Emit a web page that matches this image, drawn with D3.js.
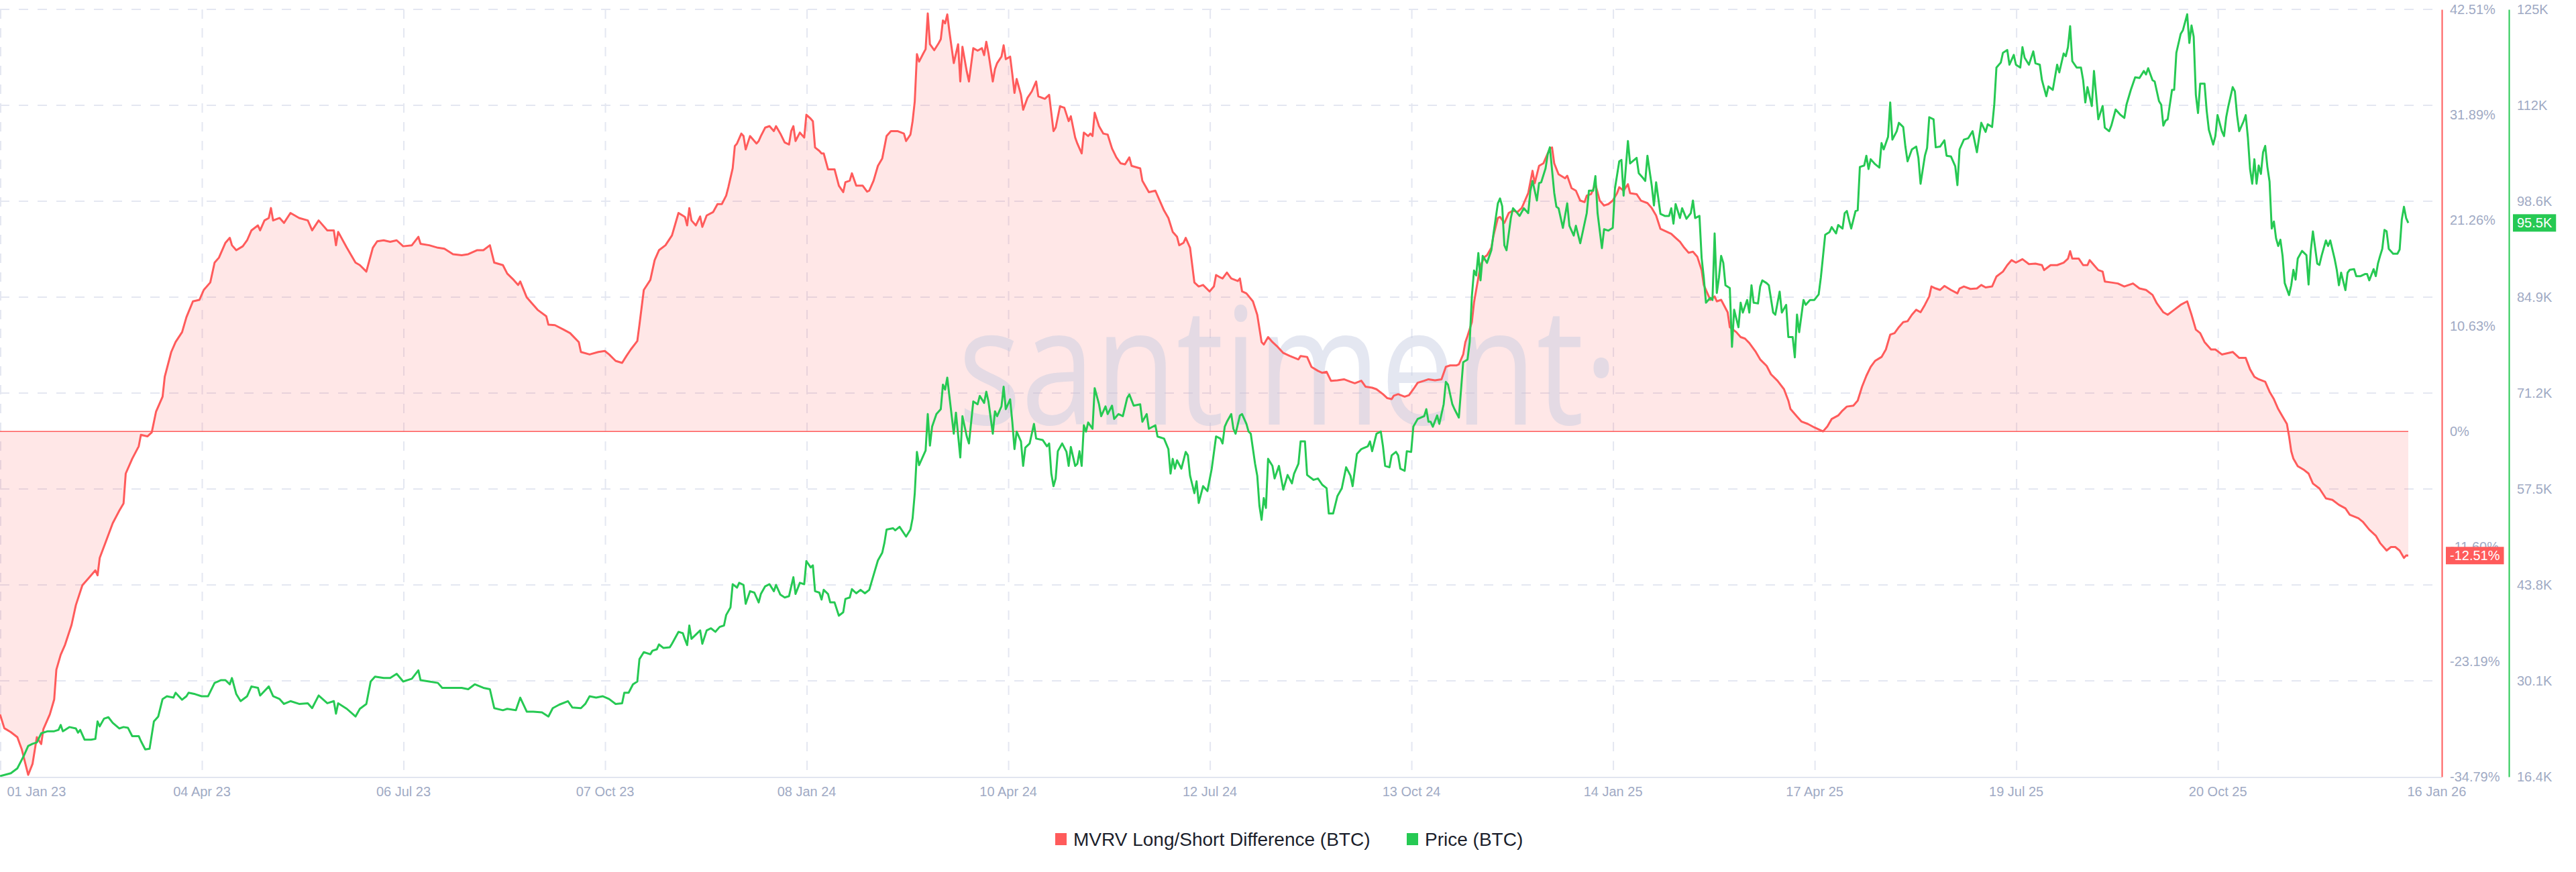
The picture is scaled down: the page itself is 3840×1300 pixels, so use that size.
<!DOCTYPE html>
<html>
<head>
<meta charset="utf-8">
<script src="https://cdn.jsdelivr.net/npm/d3@7"></script>
<style>
  html, body { margin: 0; padding: 0; background: #ffffff; }
  svg { display: block; }
</style>
</head>
<body>
<svg id="chart" width="3840" height="1300"></svg>
<script>
// ---------------- DATA ----------------
const startDate = "2023-01-01";
const endDate = "2026-01-16";

// MVRV Long/Short Difference (BTC), [days since startDate, percent]
const mvrvPoints = [
[0,-28.5],[2,-29.9],[5,-30.3],[8,-30.8],[10,-32],[13,-34.6],[15,-33.5],[17,-30.8],[19,-31.5],[20,-30],[23,-28.5],[25,-27],[26,-24],[28,-22.5],[30,-21.5],[33,-19.5],[35,-17.5],[38,-15.5],[41,-14.75],[44,-14],[45,-14.5],[46,-12.75],[49,-11],[52,-9.25],[55,-8],[57,-7.25],[58,-4.25],[61,-2.75],[64,-1.5],[65,-0.35],[68,-0.5],[70,-0.1],[72,2],[75,3.5],[76,5.5],[79,8],[81,9],[84,10],[86,11.5],[89,13.1],[92,13.25],[94,14.25],[97,15],[99,17],[101,17.5],[104,19],[106,19.5],[107,18.75],[109,18.25],[112,18.65],[114,19.25],[116,20.25],[119,20.75],[120,20.25],[122,21.25],[124,21.5],[125,22.5],[126,21.25],[129,21.5],[131,21],[134,22],[138,21.5],[142,21.25],[144,20.25],[147,21.25],[151,20.25],[154,20.25],[155,18.75],[156,20.1],[160,18.5],[164,17],[166,16.75],[169,16.1],[172,18.5],[174,19.15],[177,19.25],[180,19.1],[183,19.25],[186,18.65],[190,18.75],[193,19.6],[194,18.9],[198,18.75],[202,18.5],[205,18.4],[209,17.85],[213,17.75],[216,17.85],[220,18.25],[223,18.25],[226,18.75],[228,17],[232,16.75],[234,15.9],[237,15.25],[239,14.75],[240,15.1],[243,13.5],[245,13],[248,12.25],[252,11.6],[253,10.75],[256,10.7],[260,10.25],[263,9.9],[267,9],[268,8],[272,7.75],[276,8],[279,8.1],
[281,7.75],[284,7.1],[287,6.9],[289,7.6],[291,8.25],[294,9.1],[295,10.75],[297,14.25],[300,15.25],[302,17.25],[304,18.25],[307,18.75],[310,19.75],[311,20.5],[313,22],[316,21.6],[317,20.75],[318,22.5],[319,21.25],[321,20.75],[323,21.65],[324,20.6],[326,21.75],[329,22.1],[331,22.9],[333,22.9],[335,23.75],[336,24.6],[338,26.5],[339,28.75],[340,29],[342,30],[343,29.75],[344,28.4],[346,29.75],[349,29],[350,29.25],[351,29.75],[353,30.6],[355,30.75],[357,30.25],[358,30.75],[360,30],[362,29.1],[364,28.9],[365,30.25],[366,30.75],[367,29.25],[369,30.1],[371,29.6],[372,31.9],[374,31.5],[375,31.25],[376,28.6],[378,28.25],[379,28],[380,28],[382,26.4],[385,26.4],[387,24.75],[389,24.1],[390,25.1],[392,25.25],[393,26],[395,24.75],[398,24.75],[400,24.15],[401,24.25],[403,25.25],[405,26.75],[407,27.5],[409,29.75],[411,30.25],[414,30.25],[417,30],[418,29.25],[420,29.9],[421,31.25],[422,33.25],[423,38],[424,37.25],[426,38.1],[427,38.5],[428,42.1],[429,39],[431,38.4],[433,39.1],[434,39.5],[435,41.4],[436,41.1],[437,42],[438,40.25],[440,37.1],[442,39],[443,35.25],[444,38.75],[446,36.25],[447,35.25],[449,38.6],[451,38.35],[453,38.6],[454,37.9],[455,39.25],[456,38.1],[458,35.25],[459,36.5],[460,37.1],[462,37.75],[463,38.9],[464,37.5],[466,37.75],[467,36],[468,34.1],[469,35.5],[471,33.9],[472,32.4],[474,33.6],[476,34.25],[478,35.25],[479,33.75],[482,33.5],[484,33.9],[486,30.25],[487,30.6],[489,32.75],[491,32.6],[493,31.25],[494,31.75],[496,29.6],[497,29],[499,28],[500,30.1],[502,29.75],[503,30],[504,29.75],[505,32.1],[507,30.75],[509,30],[511,29.9],[513,28.5],[515,27.6],[517,27],[519,26.9],[521,27.6],[522,26.75],[526,26.5],[527,25.25],[530,24.1],[533,24.25],[535,23.25],[537,22.25],[539,21.5],[541,20.1],[543,19.6],[544,18.75],[546,19],[547,19.5],[549,18.5],[550,16.75],[551,15],[553,14.6],[555,14.75],[558,14.1],[560,14.6],[561,15.75],[563,15.5],
[564,15.4],[566,16],[568,15.4],[571,15.15],[572,15.4],[573,14.1],[575,13.9],[578,13.1],[580,11.75],[582,9],[583,8.75],[585,9.5],[587,9],[589,8.6],[592,7.9],[595,7.6],[599,7.25],[600,7.6],[603,7.5],[605,6.5],[608,6.1],[610,5.9],[612,6],[614,5.1],[617,5.15],[620,5.25],[623,5],[625,4.85],[628,5.1],[630,4.5],[633,4.4],[635,4.25],[638,3.75],[640,3.35],[642,3.25],[643,3.6],[645,3.75],[648,3.5],[650,3.65],[652,4.25],[654,4.9],[657,5.1],[659,5.25],[662,5.15],[665,5.25],[667,6.5],[669,6.65],[672,6.65],[673,6.75],[675,7.75],[676,9],[677,9.6],[679,11],[680,13],[682,15.5],[683,16.75],[685,17.6],[686,17.75],[688,18.5],[689,19.75],[691,21.5],[692,21.6],[694,21],[696,22],[698,22.25],[700,22.1],[702,22.5],[703,23],[705,24],[707,26.25],[708,25],[710,26.75],[712,27],[713,27.5],[715,28.5],[716,28.6],[717,27],[719,25.9],[722,25.5],[723,25.75],[725,24.5],[727,24.25],[729,23.25],[731,23.1],[732,23.75],[734,23.9],[736,24.9],[738,23.25],[740,22.75],[742,22.9],[744,23.25],[746,24],[747,24.6],[749,24.25],[751,24.9],[752,24],[755,23.9],[757,23.25],[760,23],[762,22.5],[764,21.75],[766,20.4],[769,20.1],[771,19.9],[773,19.5],[775,19.1],[777,18.5],[779,18],[781,18.1],[783,17.6],[785,16.25],[786,14.75],[788,13.75],[789,13.25],[791,13.6],[792,13.1],[794,13.25],[797,12],[798,10.5],[801,10],[803,9.5],[805,9.35],[807,8.9],[810,8],[812,7.25],[815,6.6],[817,5.75],[820,5.1],[823,4.25],[825,3.1],[826,2.25],[829,1.5],[831,1],[834,0.75],[837,0.4],[840,0.1],[841,0],
[843,0.5],[845,1.25],[848,1.6],[850,2.1],[852,2.5],[855,2.6],[857,3.1],[859,4.5],[861,5.6],[863,6.5],[865,7.1],[868,7.5],[870,8.25],[872,9.75],[874,9.9],[876,10.5],[878,11],[880,11.1],[882,11.75],[884,12.25],[886,12],[888,12.75],[890,13.6],[891,14.6],[893,14.4],[895,14.25],[897,14.65],[900,14.25],[903,13.9],[904,14.4],[906,14.6],[909,14.35],[912,14.4],[914,14.75],[916,14.5],[919,14.6],[921,15.6],[924,16.1],[926,16.75],[928,17.25],[930,17],[933,17.35],[936,16.85],[939,16.9],[942,16.75],[943,16.25],[946,16.75],[949,16.75],[952,17],[954,17.4],[955,18.15],[956,17.4],[959,17.4],[961,16.75],[963,16.75],[964,17.25],[966,16.75],[968,16.25],[970,16.1],[971,15.1],[974,15],[977,14.9],[980,14.6],[982,14.75],[984,14.9],[987,14.4],[990,14.25],[993,13.75],[995,12.9],[998,12],[1000,11.75],[1003,12.25],[1006,12.75],[1009,13.1],[1011,11.75],[1013,10.25],[1015,9.9],[1017,9],[1020,8.25],[1022,8.25],[1025,7.75],[1028,7.9],[1030,8],[1033,7.4],[1036,7.4],[1038,6.25],[1040,5.5],[1042,5.25],[1045,5],[1047,4],[1049,3.25],[1051,2.25],[1053,1.5],[1055,0.75],[1056,-0.5],[1057,-2],[1058,-2.75],[1060,-3.5],[1063,-3.9],[1065,-4.25],[1067,-5.25],[1070,-5.75],[1073,-6.75],[1076,-6.9],[1079,-7.4],[1082,-7.75],[1084,-8.4],[1088,-8.75],[1090,-9.1],[1093,-9.9],[1096,-10.5],[1098,-11.25],[1101,-12],[1103,-11.65],[1105,-11.65],[1107,-12],[1109,-12.75],[1110,-12.5],[1111,-12.51]
];

// Price (BTC) in thousands USD, [days since startDate, price K]
const pricePoints = [
[0,16.5],[5,16.9],[8,17.6],[11,19.4],[13,20.8],[15,21.1],[17,21.3],[19,22.6],[22,22.9],[25,22.9],[27,23.1],[28,23.8],[29,22.9],[32,23.5],[35,23.3],[36,22.7],[37,23.1],[39,21.7],[42,21.7],[44,21.8],[45,24.3],[46,23.6],[48,24.7],[50,24.9],[52,24.1],[55,23.3],[57,23.5],[59,23.4],[61,22.2],[64,22.2],[65,21.5],[67,20.3],[69,20.4],[71,24.3],[73,25],[75,27.5],[77,27.9],[80,27.7],[81,28.4],[84,27.4],[86,27.9],[87,28.4],[90,28.2],[93,27.9],[96,27.9],[99,29.8],[102,30.2],[104,30.2],[106,29.6],[107,30.5],[109,28.2],[111,27.2],[114,27.9],[116,29.3],[119,29.1],[120,28],[124,29.3],[126,27.9],[129,27.5],[131,26.8],[134,27.2],[138,26.8],[142,26.9],[144,26.2],[147,28],[151,26.9],[154,27.2],[155,25.4],[156,26.9],[160,26.1],[164,25],[166,26.1],[169,26.8],[171,30],[173,30.7],[177,30.5],[180,30.5],[183,31.1],[186,30],[190,30.4],[193,31.6],[194,30.2],[198,30],[202,29.8],[204,29.1],[209,29.1],[213,29.1],[216,28.9],[219,29.6],[223,29.1],[226,28.9],[228,26.2],[232,25.9],[234,26.1],[238,25.9],[240,27.7],[243,25.7],[246,25.7],[250,25.6],[253,25],[255,26.2],[258,26.7],[262,27.2],[264,26.3],[268,26.2],[270,26.8],[272,27.9],[275,27.7],[278,27.9],
[281,27.5],[284,26.8],[287,26.9],[288,28.4],[290,28.4],[292,29.6],[294,30],[295,33.2],[297,34.2],[300,33.9],[301,34.4],[303,34.6],[304,35.3],[306,34.8],[309,34.9],[310,35.4],[313,37.1],[315,36.9],[316,36],[317,35.2],[318,38],[319,36.1],[321,36.7],[323,37.3],[324,35.4],[326,37.3],[328,37.6],[330,37.1],[332,37.8],[334,38],[335,39.5],[337,40.6],[338,43.9],[340,43.4],[341,44.1],[343,43.8],[344,41.1],[346,42.9],[348,42.7],[350,41.3],[351,42.5],[353,43.6],[355,43.9],[357,42.9],[358,43.8],[360,42.4],[362,42],[364,42.2],[366,44.9],[367,42.5],[369,44.1],[371,43.9],[372,47.2],[374,46.3],[375,46.6],[376,42.9],[378,42.7],[379,41.7],[380,43.1],[382,42.5],[383,41.3],[385,41.3],[387,39.4],[389,39.9],[390,41.8],[392,42],[393,43.2],[395,42.6],[397,43.1],[399,42.6],[401,43.1],[403,45.2],[405,47.3],[407,48.4],[408,49.8],[409,51.7],[412,51.9],[413,51.6],[415,52.1],[418,50.7],[420,51.7],[421,53.3],[422,56.9],[423,62.8],[424,60.9],[426,62.3],[427,63],[428,68.2],[429,63.7],[430,66.4],[432,68.2],[434,68.9],[435,72.4],[436,71.7],[437,73.4],[438,70.7],[440,65.4],[441,68.4],[443,62],[444,67.9],[446,65],[447,64],[449,70],[451,69.6],[452,70.8],[454,69.8],[455,71.4],[456,70],[458,65.4],[459,68.6],[460,67.9],[462,69.3],[463,72.1],[464,68.9],[466,70.3],[467,67.1],[468,63.2],[469,65.7],[471,64.3],[472,60.8],[473,63.4],[475,64],[477,66.8],[478,64.7],[481,64.5],[483,63.6],[484,64],[485,59.7],[486,57.9],[487,59],[488,62.9],[490,64],[492,62.8],[493,60.8],[494,63.5],[496,60.8],[497,61.1],[498,62.9],[499,60.8],[500,66.6],[501,65.7],[502,67],[504,66.1],[505,71.9],[507,69.6],[508,67.9],[510,69.3],[511,68.2],[513,69.4],[514,67.5],[516,68.2],[518,67.9],[520,70.5],[521,71],[523,69.4],[526,69.6],[527,67.1],[529,68.2],[530,66.1],[533,66.6],[534,65],[537,64.7],[539,63.2],[540,59.7],[541,61.8],[542,60.4],[543,61.6],[545,60.4],[547,62.8],[548,62.3],[549,59.4],[551,56.9],[552,58.6],[553,55.5],[555,57.9],[557,57.2],[559,60.4],[561,65],[563,64.7],
[564,64],[565,66.4],[566,67.1],[568,68.2],[569,66.1],[570,65.4],[572,68],[573,68.2],[575,66.8],[576,65.7],[577,65.4],[579,61.1],[580,59.4],[581,55.1],[582,53.1],[583,56.2],[584,54.8],[585,61.8],[587,60.8],[588,59],[590,60.8],[592,57.4],[594,59.5],[596,58.3],[597,59.7],[599,61.1],[600,64.3],[602,64.3],[603,59.5],[606,58.8],[608,59],[610,58.1],[612,57.6],[613,54],[615,54],[617,56.5],[619,57.6],[621,60.6],[623,59.4],[624,57.9],[626,62.5],[628,63.2],[631,63.6],[632,64.3],[633,62.9],[635,65.4],[637,65.7],[638,63.6],[639,60.8],[641,60.6],[642,62.3],[644,62.8],[645,62.3],[646,60.4],[648,60.1],[649,62.9],[651,62.8],[652,66.4],[654,67.5],[657,67.9],[658,68.9],[659,67.1],[660,67.1],[661,66.4],[663,68],[664,66.8],[666,69.6],[667,72.8],[668,72.4],[670,69.6],[671,68.9],[673,67.7],[675,75.6],[677,76],[678,78.5],[679,85],[680,88.7],[681,88],[682,91.2],[683,87.3],[684,90.8],[686,89.8],[688,91.6],[689,94],[691,98.3],[692,99],[693,97.9],[694,92.3],[695,91.6],[697,96.2],[698,97.6],[700,96.9],[701,96.5],[703,97.6],[705,96.9],[706,100.1],[707,101.5],[709,98.7],[710,101.2],[711,101.3],[713,103.3],[714,105.3],[715,106.3],[717,99.8],[718,97.8],[719,97.6],[721,94.8],[723,98.3],[724,95.1],[726,93.7],[727,95.1],[729,92.6],[730,94],[732,96.9],[733,100.1],[735,100.1],[736,102.2],[737,96.9],[739,91.9],[740,94.6],[742,94.4],[744,94.8],[745,100.4],[747,104.3],[748,104.5],[749,99.4],[751,107.2],[752,104],[755,104.8],[756,102.6],[758,101.9],[759,101.5],[760,105.1],[762,100.8],[763,98],[764,101.3],[766,96.8],[768,96.5],[770,96.5],[771,97.6],[772,95.4],[773,98.2],[775,96.2],[776,97.6],[778,96.1],[780,96.9],[781,98.7],[782,96.2],[784,96.5],[785,90.5],[786,87.7],[787,84.1],[789,84.8],[790,84.5],[791,94],[792,85.5],[793,87.7],[794,90.8],[795,89.8],[796,86.6],[798,86.2],[799,77.8],[800,83.1],[802,80.6],[803,84.1],[804,82.7],[806,84.5],[807,82.7],[808,86.6],[809,84.1],[811,84],[812,86.4],[813,87.3],[815,86.9],[816,86.6],[818,82.7],[819,82.4],[821,85.7],[822,82.7],[824,83.8],[825,79.2],[827,79.2],[828,76.3],[829,82.4],[830,79.9],[832,84.5],[833,83.8],[835,84.5],[837,84.5],
[839,85.3],[840,87.7],[842,93.8],[844,94.2],[845,94.9],[847,94],[848,95.2],[850,94.7],[851,96.9],[852,97.2],[853,95.9],[854,94.7],[856,97.2],[857,97.3],[858,103.5],[860,103.7],[861,105.1],[862,103.2],[863,104.6],[865,103.9],[867,103.4],[868,106.9],[869,106],[871,107.8],[872,112.7],[873,107.4],[875,108.6],[876,109.8],[878,109.2],[879,106.4],[880,104.3],[882,106],[884,106.4],[885,104.8],[886,101.1],[888,105.1],[889,106.2],[890,110.6],[892,110.3],[893,106.3],[895,106.4],[897,107.3],[898,105.1],[900,105],[902,103.6],[903,100.9],[904,106],[906,107.4],[908,107.6],[910,108.6],[912,105.6],[914,109.8],[916,108.5],[917,109.6],[919,109.2],[920,112.4],[921,117.7],[923,118.4],[924,119.8],[926,120.2],[927,118.1],[929,119.5],[930,118.1],[932,117.7],[933,120.6],[934,119.1],[936,118.1],[938,120],[939,118.3],[941,118.1],[942,115.9],[944,113.6],[945,115],[947,114.5],[949,118.1],[950,117],[952,119.7],[953,119.3],[954,120.6],[955,123.6],[956,118.6],[958,117.7],[960,117.7],[961,115.9],[962,112.7],[963,114.9],[965,112.2],[966,117.2],[967,113.8],[968,110.3],[970,112.2],[971,109.1],[973,108.6],[974,109.4],[976,111.7],[978,111],[980,110.5],[981,112.4],[983,114.5],[985,116.3],[987,116.2],[989,117.2],[990,116.7],[991,117.6],[993,115.9],[994,115.7],[996,112.9],[997,112.4],[998,109.4],[999,110.1],[1000,110.3],[1002,114.5],[1003,114.5],[1004,119.8],[1006,122.5],[1007,123],[1009,125.3],[1010,121.2],[1011,123.7],[1012,122.1],[1013,113.8],[1014,111.2],[1015,115.4],[1017,115.4],[1018,111.5],[1019,108.8],[1021,106.7],[1022,107.9],[1023,110.9],[1025,108.6],[1026,107.9],[1027,110.6],[1028,112.2],[1030,114.9],[1031,114.3],[1032,110.9],[1033,108.6],[1035,110],[1036,110.9],[1037,107.7],[1038,103.2],[1039,101.1],[1040,104.6],[1041,101.1],[1042,103.7],[1043,102.5],[1044,105.6],[1045,106.5],[1046,103.5],[1047,101.4],[1048,94.7],[1049,95.7],[1050,93.3],[1051,92.2],[1052,93.1],[1053,90.8],[1054,86.9],[1056,85.2],[1057,86.6],[1058,88.8],[1059,87.4],[1060,90.4],[1062,91.5],[1064,90.9],[1065,86.7],[1066,91.5],[1067,94.3],[1069,89.7],[1070,89.5],[1071,90.8],[1073,93],[1074,92.2],[1075,93],[1077,90.4],[1078,88.8],[1079,86.6],[1080,88.4],[1082,85.9],[1083,88.4],[1084,88.8],[1086,88.9],[1087,87.9],[1089,87.9],[1091,88.2],[1092,88.2],[1093,87.3],[1095,88.9],[1096,87.9],[1097,89.7],[1098,90.8],[1099,91.8],[1100,94.5],[1101,94.3],[1102,91.8],[1104,91.1],[1106,91.1],[1107,91.7],[1108,96],[1109,97.8],[1110,96.2],[1111,95.5]
];

// Axis ticks
const xTickDates = ["2023-01-01","2023-04-04","2023-07-06","2023-10-07","2024-01-08","2024-04-10","2024-07-12","2024-10-13","2025-01-14","2025-04-17","2025-07-19","2025-10-20","2026-01-16"];
const xTickLabels = ["01 Jan 23","04 Apr 23","06 Jul 23","07 Oct 23","08 Jan 24","10 Apr 24","12 Jul 24","13 Oct 24","14 Jan 25","17 Apr 25","19 Jul 25","20 Oct 25","16 Jan 26"];
const pctTicks = [-34.79, -23.19, -11.60, 0, 10.63, 21.26, 31.89, 42.51];
const pctLabels = ["-34.79%","-23.19%","-11.60%","0%","10.63%","21.26%","31.89%","42.51%"];
const priceTicks = [16.4, 30.1, 43.8, 57.5, 71.2, 84.9, 98.6, 112.3, 126.0];
const priceLabels = ["16.4K","30.1K","43.8K","57.5K","71.2K","84.9K","98.6K","112K","125K"];
const lastMvrvLabel = "-12.51%";
const lastPriceLabel = "95.5K";
const seriesNames = ["MVRV Long/Short Difference (BTC)", "Price (BTC)"];
const watermarkText = "santiment\u00B7";

// ---------------- LAYOUT ----------------
const RED = "#ff5b5b", GREEN = "#26c953";
const AXIS_TEXT = "#9faac4", GRID = "#e4e7f1";
const plotLeft = 0, plotTop = 14, plotBottom = 1158, plotRight = 3640, dataRight = 3590;
const priceAxisX = 3740;

const svg = d3.select("#chart");
const parse = d3.utcParse("%Y-%m-%d");
const t0 = parse(startDate), t1 = parse(endDate);
const toDate = d => d3.utcDay.offset(t0, d);

const x = d3.scaleUtc().domain([t0, t1]).range([plotLeft, dataRight]);
const yPct = d3.scaleLinear().domain([pctTicks[0], pctTicks[pctTicks.length - 1]]).range([plotBottom, plotTop]);
const yPrice = d3.scaleLinear().domain([priceTicks[0], priceTicks[priceTicks.length - 1]]).range([plotBottom, plotTop]);

const fontAxis = "'Liberation Sans', Arial, sans-serif";

// ---------- Grid ----------
const grid = svg.append("g");
grid.selectAll("line.h").data(priceTicks.slice(1)).join("line")
  .attr("x1", plotLeft).attr("x2", plotRight)
  .attr("y1", d => yPrice(d)).attr("y2", d => yPrice(d))
  .attr("stroke", GRID).attr("stroke-width", 2).attr("stroke-dasharray", "14,14");
grid.selectAll("line.v").data(xTickDates.slice(0, -1)).join("line")
  .attr("x1", d => x(parse(d)) + 1).attr("x2", d => x(parse(d)) + 1)
  .attr("y1", plotTop).attr("y2", plotBottom)
  .attr("stroke", GRID).attr("stroke-width", 2).attr("stroke-dasharray", "14,14");

// ---------- Area ----------
const area = d3.area()
  .x(d => x(toDate(d[0])))
  .y0(yPct(0))
  .y1(d => yPct(d[1]));
svg.append("path").datum(mvrvPoints)
  .attr("d", area)
  .attr("fill", RED).attr("fill-opacity", 0.15);

// ---------- Watermark ----------
svg.append("text")
  .attr("x", 1428).attr("y", 633)
  .attr("font-family", "'Open Sans', 'Noto Sans', sans-serif")
  .attr("font-size", 243)
  .attr("textLength", 985)
  .attr("lengthAdjust", "spacingAndGlyphs")
  .attr("fill", "#c3c9df").attr("fill-opacity", 0.45)
  .text(watermarkText);

// ---------- Zero line ----------
svg.append("line")
  .attr("x1", plotLeft).attr("x2", dataRight)
  .attr("y1", yPct(0)).attr("y2", yPct(0))
  .attr("stroke", RED).attr("stroke-width", 1.5);

// ---------- Lines ----------
const mvrvLine = d3.line().x(d => x(toDate(d[0]))).y(d => yPct(d[1]));
const priceLine = d3.line().x(d => x(toDate(d[0]))).y(d => yPrice(d[1]));
svg.append("path").datum(mvrvPoints).attr("d", mvrvLine)
  .attr("fill", "none").attr("stroke", RED).attr("stroke-width", 3).attr("stroke-linejoin", "round");
svg.append("path").datum(pricePoints).attr("d", priceLine)
  .attr("fill", "none").attr("stroke", GREEN).attr("stroke-width", 3).attr("stroke-linejoin", "round");

// ---------- Bottom axis ----------
svg.append("line").attr("x1", plotLeft).attr("x2", plotRight)
  .attr("y1", plotBottom + 1).attr("y2", plotBottom + 1)
  .attr("stroke", "#e1e5f0").attr("stroke-width", 2);
const xAxis = d3.axisBottom(x)
  .tickValues(xTickDates.map(parse))
  .tickFormat((d, i) => xTickLabels[i])
  .tickSize(0).tickPadding(14);
const gx = svg.append("g").attr("transform", `translate(0,${plotBottom + 1})`).call(xAxis);
gx.select(".domain").remove();
gx.selectAll("text").attr("fill", AXIS_TEXT).attr("font-size", 20).attr("font-family", fontAxis);
const xTexts = gx.selectAll("text").nodes();
d3.select(xTexts[0]).attr("text-anchor", "start").attr("x", 10);
d3.select(xTexts[xTexts.length - 1]).attr("text-anchor", "start").attr("x", -2);

// ---------- Right axes ----------
const pctAxis = d3.axisRight(yPct).tickValues(pctTicks)
  .tickFormat((d, i) => pctLabels[i]).tickSize(0).tickSizeOuter(0).tickPadding(12);
const gp = svg.append("g").attr("transform", `translate(${plotRight},0)`).call(pctAxis);
gp.select(".domain").attr("stroke", RED).attr("stroke-width", 2);
gp.selectAll("text").attr("fill", AXIS_TEXT).attr("font-size", 20).attr("font-family", fontAxis);

const priceAxis = d3.axisRight(yPrice).tickValues(priceTicks)
  .tickFormat((d, i) => priceLabels[i]).tickSize(0).tickSizeOuter(0).tickPadding(12);
const gpr = svg.append("g").attr("transform", `translate(${priceAxisX},0)`).call(priceAxis);
gpr.select(".domain").attr("stroke", GREEN).attr("stroke-width", 2);
gpr.selectAll("text").attr("fill", AXIS_TEXT).attr("font-size", 20).attr("font-family", fontAxis);

// ---------- Last value tags ----------
function tag(xLeft, yVal, label, color) {
  const g = svg.append("g");
  const rect = g.append("rect").attr("fill", color);
  const txt = g.append("text")
    .attr("x", xLeft + 6).attr("y", yVal).attr("dy", "0.35em")
    .attr("fill", "#ffffff").attr("font-size", 20).attr("font-family", fontAxis)
    .text(label);
  const w = txt.node().getComputedTextLength();
  rect.attr("x", xLeft).attr("y", yVal - 13).attr("width", w + 12).attr("height", 26);
}
tag(plotRight + 6, yPct(mvrvPoints[mvrvPoints.length - 1][1]), lastMvrvLabel, RED);
tag(priceAxisX + 6, yPrice(pricePoints[pricePoints.length - 1][1]), lastPriceLabel, GREEN);

// ---------- Legend ----------
const legend = svg.append("g").attr("font-family", fontAxis).attr("font-size", 28).attr("fill", "#1b1e2b");
const legendItems = [
  { name: seriesNames[0], color: RED, x: 1573 },
  { name: seriesNames[1], color: GREEN, x: 2097 }
];
legendItems.forEach(it => {
  legend.append("rect").attr("x", it.x).attr("y", 1242).attr("width", 17).attr("height", 18).attr("fill", it.color);
  legend.append("text").attr("x", it.x + 27).attr("y", 1251).attr("dy", "0.35em").text(it.name);
});
</script>
</body>
</html>
